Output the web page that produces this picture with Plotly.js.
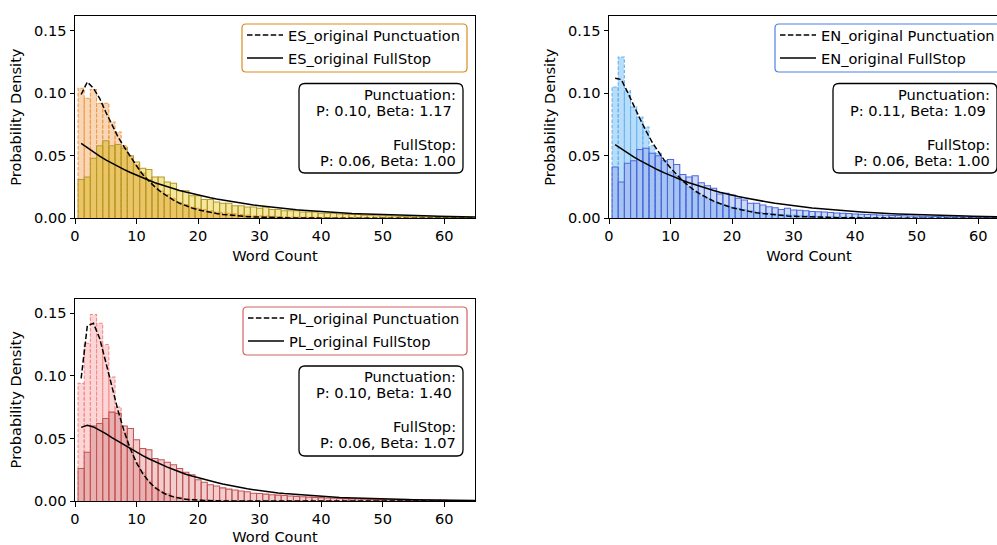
<!DOCTYPE html>
<html>
<head>
<meta charset="utf-8">
<script src="https://cdn.plot.ly/plotly-3.0.1.min.js"></script>
<style>
html,body{margin:0;padding:0;overflow:hidden;background:#fff}
#chart{width:1020px;height:545px}
</style>
</head>
<body>
<div id="chart"></div>
<script>
// ---------- data ----------
const wordBins = Array.from({length: 64}, (_, i) => i + 1);      // histogram bin centres (word counts)
const fitCounts = Array.from({length: 65}, (_, i) => i + 1);     // fitted-curve word counts

const esPunct = [.104,.096,.103,.092,.092,.077,.069,.058,.050,.043,
  .036,.031,.027,.022,.019,.016,.013,.011,.009,.008,
  .007,.006,.005,.0045,.004,.0035,.003,.0025,.002,.002,
  .0018,.0015,.0013,.0012,.001,.001,.0008,.0008,.0007,.0006,
  .0005,.0005,.0004,.0004,.0003,.0003,.0003,.0002,.0002,.0002,
  .0002,.0001,.0001,.0001,.0001,.0001,.0001,.0001,.0001,.0001,
  .0001,.0001,.0001,.0001];
const esFull = [.031,.033,.048,.058,.062,.058,.059,.056,.050,.045,
  .040,.039,.033,.033,.029,.028,.022,.022,.018,.018,
  .015,.015,.013,.012,.012,.010,.010,.009,.009,.008,
  .009,.007,.007,.006,.006,.006,.005,.005,.005,.004,
  .004,.004,.0035,.003,.003,.003,.0025,.0025,.002,.002,
  .002,.0018,.0015,.0015,.0013,.0012,.001,.001,.0009,.0008,
  .0007,.0007,.0006,.0005];
const enPunct = [.105,.129,.102,.089,.081,.073,.058,.052,.045,.037,
  .034,.029,.025,.021,.018,.016,.013,.012,.010,.009,
  .008,.007,.006,.005,.0045,.004,.0035,.003,.003,.0025,
  .002,.002,.0018,.0015,.0013,.0012,.001,.001,.0009,.0008,
  .0007,.0006,.0006,.0005,.0005,.0004,.0004,.0003,.0003,.0003,
  .0002,.0002,.0002,.0002,.0002,.0002,.0002,.0002,.0002,.0002,
  .0002,.0002,.0001,.0001];
const enFull = [.041,.029,.044,.046,.055,.056,.052,.050,.046,.047,
  .043,.035,.033,.034,.0285,.026,.024,.0195,.020,.0187,
  .016,.0147,.012,.012,.0107,.0093,.0085,.007,.008,.0067,
  .0065,.006,.0055,.0052,.005,.0046,.0043,.004,.0038,.0035,
  .0033,.003,.0028,.0026,.0025,.0023,.0022,.002,.0019,.0018,
  .0017,.0016,.0015,.0014,.0013,.0012,.0012,.0011,.001,.001,
  .0009,.0009,.0008,.0008];
const plPunct = [.094,.126,.149,.142,.125,.099,.075,.055,.043,.031,
  .023,.016,.011,.008,.006,.004,.003,.002,.0015,.001,
  .001,.0008,.0006,.0005,.0005,.0004,.0004,.0003,.0003,.0003,
  .0003,.0002,.0002,.0002,.0002,.0002,.0002,.0002,.0002,.0002,
  .0002,.0002,.0002,.0002,.0002,.0002,.0002,.0002,.0002,.0002,
  .0001,.0001,.0001,.0001,.0001,.0001,.0001,.0001,.0001,.0001,
  .0001,.0001,.0001,.0001];
const plFull = [.026,.039,.060,.062,.066,.071,.070,.060,.058,.049,
  .042,.041,.034,.033,.031,.029,.026,.023,.021,.017,
  .015,.013,.012,.0105,.0095,.0088,.008,.0074,.0062,.006,
  .0055,.005,.0047,.0044,.004,.0037,.0034,.0031,.0029,.0027,
  .0024,.0022,.002,.0019,.0017,.0016,.0015,.0013,.0012,.0011,
  .001,.0009,.0009,.0008,.0007,.0007,.0006,.0006,.0005,.0005,
  .0004,.0004,.0003,.0003];

const esPunctFit = [.099,.109,.104,.096,.085,.075,.065,.057,.049,.042,
  .035,.030,.025,.021,.0175,.0146,.012,.010,.0083,.0068,
  .0056,.0045,.0038,.0031,.0025,.0020,.0017,.0013,.0011,.0009,
  .0007,.0006,.0005,.0004,.0003,.0002,.0002,.0001,.0001,.0001,
  0,0,0,0,0,0,0,0,0,0, 0,0,0,0,0,0,0,0,0,0, 0,0,0,0,0];
const esFullFit = [.0600,.0564,.0530,.0498,.0468,.0440,.0414,.0389,.0366,.0344,
  .0323,.0304,.0285,.0268,.0252,.0237,.0223,.0210,.0197,.0185,
  .0174,.0164,.0154,.0145,.0136,.0128,.0120,.0113,.0106,.0100,
  .0094,.0088,.0083,.0078,.0073,.0069,.0065,.0061,.0057,.0054,
  .0051,.0047,.0045,.0042,.0039,.0037,.0035,.0033,.0031,.0029,
  .0027,.0025,.0024,.0022,.0021,.0020,.0019,.0018,.0017,.0016,
  .0015,.0014,.0013,.0012,.0011];
const enPunctFit = [.112,.111,.101,.090,.080,.070,.061,.0535,.0463,.0402,
  .0346,.0298,.0257,.0219,.0189,.0162,.0137,.0118,.0100,.0085,
  .0073,.0062,.0052,.0044,.0038,.0032,.0027,.0023,.0019,.0016,
  .0014,.0012,.0010,.0008,.0007,.0006,.0005,.0004,.0004,.0003,
  .0003,.0002,.0002,.0002,.0001,.0001,.0001,.0001,0,0,
  0,0,0,0,0,0,0,0,0,0, 0,0,0,0,0];
const enFullFit = [.0590,.0556,.0523,.0492,.0463,.0436,.0410,.0386,.0363,.0341,
  .0321,.0302,.0284,.0267,.0251,.0236,.0222,.0209,.0196,.0185,
  .0174,.0164,.0154,.0145,.0136,.0128,.0120,.0113,.0106,.0100,
  .0094,.0088,.0083,.0078,.0073,.0069,.0065,.0061,.0057,.0054,
  .0051,.0047,.0045,.0042,.0039,.0037,.0035,.0033,.0031,.0029,
  .0027,.0025,.0024,.0022,.0021,.0020,.0019,.0018,.0017,.0016,
  .0015,.0014,.0013,.0012,.0011];
const plPunctFit = [.098,.140,.142,.130,.111,.091,.072,.0555,.0415,.0305,
  .022,.0155,.0107,.0074,.0049,.0033,.0022,.0014,.0009,.0006,
  .0004,.0002,.0001,0,0,0,0,0,0,0,
  0,0,0,0,0,0,0,0,0,0, 0,0,0,0,0,0,0,0,0,0,
  0,0,0,0,0,0,0,0,0,0, 0,0,0,0,0];
const plFullFit = [.0588,.0605,.0592,.0566,.0538,.0507,.0477,.0447,.0418,.0389,
  .0363,.0338,.0314,.0291,.0271,.0252,.0232,.0214,.0199,.0185,
  .0172,.0159,.0147,.0135,.0124,.0115,.0106,.0097,.0090,.0082,
  .0076,.0070,.0064,.0059,.0055,.0050,.0046,.0042,.0039,.0036,
  .0033,.0030,.0028,.0026,.0024,.0022,.0020,.0018,.0017,.0015,
  .0014,.0013,.0012,.0011,.0010,.0009,.0008,.0008,.0007,.0006,
  .0006,.0005,.0005,.0004,.0004];

const fitParams = {
  ES: {pP: '0.10', pB: '1.17', fP: '0.06', fB: '1.00'},
  EN: {pP: '0.11', pB: '1.09', fP: '0.06', fB: '1.00'},
  PL: {pP: '0.10', pB: '1.40', fP: '0.06', fB: '1.07'}
};

// ---------- layout geometry (pixels of a 1020 x 545 canvas) ----------
const W = 1020, H = 545;
const FONT = 'DejaVu Sans, Liberation Sans, sans-serif';
const FS = 14.6;
const px = v => v / W, py = v => 1 - v / H;

const panels = [
  {lang: 'ES', ax: '', punct: esPunct, full: esFull, pFit: esPunctFit, fFit: esFullFit,
   dom: {x: [75, 475], y: [16, 218.3]}, leg: 'legend',
   legBox: [242, 24, 467, 72], infoBox: [299, 83.5, 463, 173], textRight: 457.7,
   col: {pa: '#f8d6b6', fa: '#f5e79c', ov: '#eac465', pe: '#ef9c4a', fe: '#b39c2a', lb: '#dc8b1f'}},
  {lang: 'EN', ax: '2', punct: enPunct, full: enFull, pFit: enPunctFit, fFit: enFullFit,
   dom: {x: [609, 1009], y: [16, 218.3]}, leg: 'legend2',
   legBox: [775, 24, 1001, 72], infoBox: [833, 83.5, 997, 173], textRight: 991.7,
   col: {pa: '#b8ddf8', fa: '#ccd9f4', ov: '#a6c3f1', pe: '#66b3f5', fe: '#4d68dd', lb: '#4a82e6'}},
  {lang: 'PL', ax: '3', punct: plPunct, full: plFull, pFit: plPunctFit, fFit: plFullFit,
   dom: {x: [75, 475], y: [298.5, 501]}, leg: 'legend3',
   legBox: [243, 307, 467, 355], infoBox: [299, 366, 463, 456], textRight: 457.7,
   col: {pa: '#fcd6d6', fa: '#f1cdcd', ov: '#e8b0b0', pe: '#f58c8c', fe: '#c45656', lb: '#d46262'}}
];

function outline(xs, hs) {
  const x = [], y = [];
  xs.forEach((c, i) => {
    x.push(c - 0.5, c - 0.5, c + 0.5, c + 0.5, null);
    y.push(0, hs[i], hs[i], 0, null);
  });
  return {x, y};
}

function roundRect(x0, y0, x1, y1, r) {
  const X = v => px(v).toFixed(5), Y = v => py(v).toFixed(5);
  return `M${X(x0 + r)},${Y(y0)} L${X(x1 - r)},${Y(y0)} Q${X(x1)},${Y(y0)} ${X(x1)},${Y(y0 + r)} ` +
         `L${X(x1)},${Y(y1 - r)} Q${X(x1)},${Y(y1)} ${X(x1 - r)},${Y(y1)} ` +
         `L${X(x0 + r)},${Y(y1)} Q${X(x0)},${Y(y1)} ${X(x0)},${Y(y1 - r)} ` +
         `L${X(x0)},${Y(y0 + r)} Q${X(x0)},${Y(y0)} ${X(x0 + r)},${Y(y0)} Z`;
}

const traces = [];
const layout = {
  width: W, height: H,
  margin: {l: 0, r: 0, t: 0, b: 0},
  paper_bgcolor: '#fff', plot_bgcolor: '#fff',
  font: {family: FONT, size: FS, color: '#000'},
  barmode: 'overlay', bargap: 0,
  hovermode: false,
  showlegend: true,
  shapes: [], annotations: []
};

panels.forEach(p => {
  const xa = 'x' + p.ax, ya = 'y' + p.ax;
  const base = {xaxis: xa, yaxis: ya, showlegend: false, hoverinfo: 'skip'};
  const overlap = p.punct.map((v, i) => Math.min(v, p.full[i]));
  traces.push(Object.assign({type: 'bar', x: wordBins, y: p.punct, width: 1,
    marker: {color: p.col.pa, line: {width: 0}}}, base));
  traces.push(Object.assign({type: 'bar', x: wordBins, y: p.full, width: 1,
    marker: {color: p.col.fa, line: {width: 0}}}, base));
  traces.push(Object.assign({type: 'bar', x: wordBins, y: overlap, width: 1,
    marker: {color: p.col.ov, line: {width: 0}}}, base));
  const po = outline(wordBins, p.punct);
  traces.push(Object.assign({type: 'scatter', mode: 'lines', x: po.x, y: po.y, connectgaps: false,
    line: {color: p.col.pe, width: 1.1, dash: '3.5px,1.8px'}}, base));
  const fo = outline(wordBins, p.full);
  traces.push(Object.assign({type: 'scatter', mode: 'lines', x: fo.x, y: fo.y, connectgaps: false,
    line: {color: p.col.fe, width: 1.05}}, base));
  traces.push({type: 'scatter', mode: 'lines', x: fitCounts, y: p.pFit, xaxis: xa, yaxis: ya,
    name: p.lang + '_original Punctuation', legend: p.leg, legendgroup: p.lang + 'p', hoverinfo: 'skip',
    line: {color: '#000', width: 1.5, dash: '5.5px,2.4px'}});
  traces.push({type: 'scatter', mode: 'lines', x: fitCounts, y: p.fFit, xaxis: xa, yaxis: ya,
    name: p.lang + '_original FullStop', legend: p.leg, legendgroup: p.lang + 'f', hoverinfo: 'skip',
    line: {color: '#000', width: 1.5}});

  const axCommon = {showline: true, mirror: true, linecolor: '#000', linewidth: 1,
    ticks: 'outside', ticklen: 4.5, tickwidth: 1, tickcolor: '#000',
    showgrid: false, zeroline: false, fixedrange: true,
    tickfont: {family: FONT, size: FS, color: '#000'}};
  layout['xaxis' + p.ax] = Object.assign({}, axCommon, {
    domain: [px(p.dom.x[0]), px(p.dom.x[1])], anchor: ya,
    range: [0, 65], tickvals: [0, 10, 20, 30, 40, 50, 60],
    title: {text: 'Word Count', font: {family: FONT, size: FS, color: '#000'}, standoff: 7}
  });
  layout['yaxis' + p.ax] = Object.assign({}, axCommon, {
    domain: [py(p.dom.y[1]), py(p.dom.y[0])], anchor: xa,
    range: [0, 0.1618], tickvals: [0, 0.05, 0.10, 0.15], tickformat: '.2f',
    title: {text: 'Probability Density', font: {family: FONT, size: FS, color: '#000'}, standoff: 8}
  });

  const lb = p.legBox;
  layout[p.leg] = {x: px(lb[0]), y: py(lb[1] - 5), xanchor: 'left', yanchor: 'top',
    bgcolor: 'rgba(0,0,0,0)', borderwidth: 0, itemwidth: 36, tracegroupgap: 1,
    traceorder: 'grouped',
    font: {family: FONT, size: FS, color: '#000'}};
  layout.shapes.push({type: 'path', xref: 'paper', yref: 'paper', layer: 'above',
    path: roundRect(lb[0], lb[1], lb[2], lb[3], 4),
    line: {color: p.col.lb, width: 1.2}, fillcolor: 'rgba(255,255,255,0.8)'});

  const ib = p.infoBox;
  layout.shapes.push({type: 'path', xref: 'paper', yref: 'paper', layer: 'above',
    path: roundRect(ib[0], ib[1], ib[2], ib[3], 6),
    line: {color: '#000', width: 1.3}, fillcolor: '#fff'});
  const fp = fitParams[p.lang];
  const lines = [
    ['Punctuation:', 10.5],
    ['P: ' + fp.pP + ', Beta: ' + fp.pB + '\u00a0', 26.5],
    ['FullStop:', 60.8],
    ['P: ' + fp.fP + ', Beta: ' + fp.fB, 76.5]
  ];
  lines.forEach(([t, dy]) => {
    layout.annotations.push({xref: 'paper', yref: 'paper', x: px(p.textRight), y: py(ib[1] + dy),
      xanchor: 'right', yanchor: 'middle', align: 'right', showarrow: false, text: t,
      font: {family: FONT, size: FS, color: '#000'}});
  });
});

Plotly.newPlot('chart', traces, layout, {staticPlot: true, displayModeBar: false});
</script>
</body>
</html>
